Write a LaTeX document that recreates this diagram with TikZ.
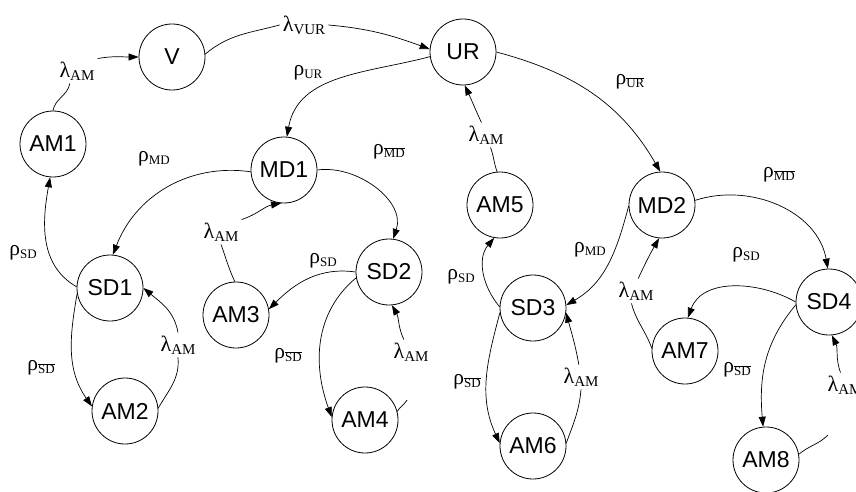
\documentclass[tikz,border=0pt]{standalone}
\usepackage{fontspec}
\setmainfont{Liberation Serif}
\newfontfamily\nodefont{Liberation Sans}
\usetikzlibrary{arrows.meta}
\newcommand\lamlab[1]{{\fontsize{22}{22}\selectfont λ\raisebox{-0.3ex}{\fontsize{15}{15}\selectfont #1}}}
\newcommand\rholab[1]{{\fontsize{21.5}{21.5}\selectfont ρ\raisebox{-0.3ex}{\fontsize{13}{13}\selectfont #1}}}
\newcommand\rhobar[1]{{\fontsize{21.5}{21.5}\selectfont ρ\raisebox{-0.3ex}{\fontsize{13}{13}\selectfont$\overline{\mbox{#1}}$}}}
\begin{document}
\begin{tikzpicture}[x=1pt,y=1pt,
 state/.style={circle,draw,line width=0.8pt,minimum size=66pt,inner sep=0pt,font=\nodefont\fontsize{23}{23}\selectfont},
 lam/.style={inner sep=3pt},
 rho/.style={inner sep=0pt},
 conn/.style={line width=0.7pt},
 arr/.style={conn,-{Triangle[length=10pt,width=7pt]}}]
\useasboundingbox (0,0) rectangle (856,-492);
% states
\node[state] (V) at (172,-57) {V};
\node[state] (UR) at (463,-52) {UR};
\node[state] (AM1) at (53,-144) {AM1};
\node[state] (MD1) at (284,-170) {MD1};
\node[state] (SD1) at (110,-288) {SD1};
\node[state] (AM2) at (125,-411) {AM2};
\node[state] (AM3) at (236,-315) {AM3};
\node[state] (SD2) at (389,-272) {SD2};
\node[state] (AM4) at (365,-420) {AM4};
\node[state] (AM5) at (500,-205) {AM5};
\node[state] (MD2) at (662,-205) {MD2};
\node[state] (SD3) at (533,-308) {SD3};
\node[state] (AM6) at (533,-446) {AM6};
\node[state] (AM7) at (685,-351) {AM7};
\node[state] (SD4) at (829,-302) {SD4};
\node[state] (AM8) at (766,-460) {AM8};
% lambda labels (on the lines)
\node[lam] (lV) at (77,-71) {\lamlab{AM}};
\node[lam] (lVUR) at (304,-25) {\lamlab{VUR}};
\node[lam] (lAM3) at (221,-232) {\lamlab{AM}};
\node[lam] (lAM2) at (178,-345) {\lamlab{AM}};
\node[lam] (lAM4) at (411,-352) {\lamlab{AM}};
\node[lam] (lAM5) at (486,-135) {\lamlab{AM}};
\node[lam] (lAM6) at (581,-377) {\lamlab{AM}};
\node[lam] (lAM7) at (636,-291) {\lamlab{AM}};
\node[lam] (lAM8) at (845,-385) {\lamlab{AM}};
\coordinate (c4) at (407,-400);
\coordinate (c8) at (828,-435);
% rho labels
\node[rho] (rUR) at (308,-73) {\rholab{UR}};
\node[rho] (rURb) at (630,-82) {\rhobar{UR}};
\node[rho] (rMD1) at (154,-159) {\rholab{MD}};
\node[rho] (rMDb1) at (389,-152) {\rhobar{MD}};
\node[rho] (rSD1) at (23,-253) {\rholab{SD}};
\node[rho] (rSDb1) at (41,-368) {\rhobar{SD}};
\node[rho] (rSD2) at (323,-261) {\rholab{SD}};
\node[rho] (rSDb2) at (288,-356) {\rhobar{SD}};
\node[rho] (rSD3) at (461,-277) {\rholab{SD}};
\node[rho] (rMD2) at (590,-250) {\rholab{MD}};
\node[rho] (rMDb2) at (779,-175) {\rhobar{MD}};
\node[rho] (rSDb3) at (467,-382) {\rhobar{SD}};
\node[rho] (rSD4) at (746,-255) {\rholab{SD}};
\node[rho] (rSDb4) at (737,-370) {\rhobar{SD}};
% connectors
\draw[conn] (AM1.90) to[out=80,in=-100] (lV.-120);
\draw[arr] (lV.north east) to[out=10,in=180] (V.180);
\draw[conn] (V.5) to[out=40,in=195] (lVUR.west);
\draw[arr] (lVUR.east) to[out=-5,in=160] (UR.175);
\draw[arr] (UR.188) to[out=195,in=80] (MD1.85);
\draw[arr] (UR.0) to[out=-15,in=120] (MD2.93);
\draw[arr] (MD1.183) to[out=172,in=69] (SD1.85);
\draw[arr] (MD1.0) to[out=8,in=71] (SD2.83);
\draw[conn] (AM3.92) to[out=115,in=-70] (lAM3.south);
\draw[arr] (lAM3.north east) to[out=18,in=190] (MD1.-95);
\draw[arr] (SD1.178) to[out=150,in=-100] (AM1.-95);
\draw[arr] (SD1.190) to[out=-100,in=125] (AM2.172);
\draw[conn] (AM2.5) to[out=60,in=-85] (lAM2.south);
\draw[arr] (lAM2.north) to[out=100,in=-40] (SD1.0);
\draw[arr] (SD2.180) to[out=172,in=45] (AM3.10);
\draw[arr] (SD2.190) to[out=220,in=110] (AM4.175);
\draw[conn] (AM4.15) to[out=60,in=-120] (c4);
\draw[arr] (lAM4.120) to[out=115,in=-60] (SD2.-85);
\draw[conn] (AM5.95) to[out=110,in=-70] (lAM5);
\draw[arr] (lAM5.110) to[out=115,in=-65] (UR.-87);
\draw[arr] (SD3.178) to[out=130,in=-130] (AM5.-100);
\draw[arr] (MD2.182) to[out=-105,in=30] (SD3.5);
\draw[arr] (MD2.8) to[out=18,in=100] (SD4.92);
\draw[arr] (SD3.188) to[out=-105,in=115] (AM6.175);
\draw[conn] (AM6.5) to[out=70,in=-95] (lAM6.south);
\draw[arr] (lAM6.100) to[out=100,in=-75] (SD3.-8);
\draw[conn] (AM7.175) to[out=110,in=-75] (lAM7.-110);
\draw[arr] (lAM7.80) to[out=65,in=-120] (MD2.-95);
\draw[arr] (SD4.180) to[out=150,in=70] (AM7.85);
\draw[arr] (SD4.185) to[out=-130,in=95] (AM8.95);
\draw[conn] (AM8.10) to[out=40,in=-135] (c8);
\draw[arr] (lAM8.110) to[out=110,in=-65] (SD4.-85);
\end{tikzpicture}
\end{document}
